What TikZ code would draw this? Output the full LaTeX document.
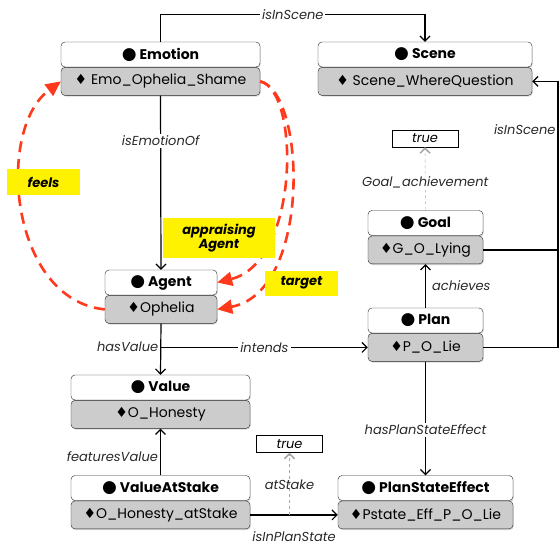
\documentclass[tikz,border=0pt]{standalone}
\usepackage{fontspec}
\setmainfont{Poppins}
\newfontfamily\symfont{DejaVu Sans}
\usetikzlibrary{positioning,arrows.meta,shadows}

\definecolor{appraisalred}{RGB}{255,58,28}
\definecolor{ink}{RGB}{40,40,40}
\newcommand{\clsdot}{{\symfont\fontsize{17}{17}\selectfont ●}}
\newcommand{\insdia}{{\symfont ♦}}

\tikzset{
	classhead/.style={draw=ink, rounded corners=4pt, fill=white, minimum height=25pt, inner sep=2pt, font=\fontsize{14}{16}\selectfont\bfseries, drop shadow={shadow xshift=0.8pt, shadow yshift=-1.2pt, opacity=0.3}},
	instance/.style={draw=ink, rounded corners=4pt, fill=gray!40, minimum height=28pt, inner sep=2pt, font=\fontsize{14}{16}\selectfont, drop shadow={shadow xshift=0.8pt, shadow yshift=-1.2pt, opacity=0.3}},
	rel/.style={line width=1.2pt, -{Straight Barb[length=5pt,width=10pt]}},
	lbl/.style={text=ink, font=\fontsize{13}{15}\selectfont\itshape, fill=white, inner sep=2pt},
	truebox/.style={draw, fill=white, minimum width=66pt, minimum height=17pt, inner sep=1pt, font=\fontsize{13}{15}\selectfont\itshape},
	hint/.style={gray!70, dashed, -{Straight Barb[length=5pt,width=10pt,line width=1.5pt]}},
	appraisal/.style={appraisalred, line width=2.6pt, dash pattern=on 11pt off 7pt, -{Triangle[length=15pt,width=14pt]}},
	tag/.style={fill=yellow, align=center, inner sep=2pt, font=\fontsize{13}{14}\selectfont\bfseries\itshape}
}

\begin{document}
\begin{tikzpicture}[x=1pt, y=-1pt]
	\useasboundingbox (0,0) rectangle (560,549);

	\node[classhead, minimum width=199pt] (emo) at (160.5,54.5) {\clsdot\ Emotion};
	\node[instance, minimum width=199pt, below=0pt of emo] (emoA) {\insdia\ Emo\_Ophelia\_Shame};
	\node[classhead, minimum width=214pt] (scene) at (425,54.5) {\clsdot\ Scene};
	\node[instance, minimum width=214pt, below=0pt of scene] (sceneA) {\insdia\ Scene\_WhereQuestion};
	\node[classhead, minimum width=115pt] (goal) at (425.5,223) {\clsdot\ Goal};
	\node[instance, minimum width=115pt, below=0pt of goal] (goalA) {\insdia G\_O\_Lying};
	\node[classhead, minimum width=115pt] (plan) at (425.5,320.5) {\clsdot\ Plan};
	\node[instance, minimum width=115pt, below=0pt of plan] (planA) {\insdia P\_O\_Lie};
	\node[classhead, minimum width=112pt] (agent) at (161,282.5) {\clsdot\ Agent};
	\node[instance, minimum width=112pt, below=0pt of agent] (agentA) {\insdia Ophelia};
	\node[classhead, minimum width=179pt] (value) at (160.5,387.5) {\clsdot\ Value};
	\node[instance, minimum width=179pt, below=0pt of value] (valueA) {\insdia O\_Honesty};
	\node[classhead, minimum width=179pt] (vas) at (160.5,488) {\clsdot\ ValueAtStake};
	\node[instance, minimum width=179pt, below=0pt of vas] (vasA) {\insdia O\_Honesty\_atStake};
	\node[classhead, minimum width=175pt] (pse) at (425.5,488) {\clsdot\ PlanStateEffect};
	\node[instance, minimum width=175pt, below=0pt of pse] (pseA) {\insdia Pstate\_Eff\_P\_O\_Lie};

	\node[truebox] (trueG) at (425,138.5) {true};
	\node[truebox] (trueS) at (289.5,444) {true};

	\coordinate (rail) at (558,0);

	\draw[rel](emo.north) -- ++(0,-27) -| node[lbl, pos=0.25]{isInScene} (scene.north);
	\draw[rel](planA.east) -- (planA.east -| rail) |- node[lbl, pos=0.41, left, fill=none]{isInScene} (sceneA.east);
	\draw[line width=1.2pt](goalA.east) -- (goalA.east -| rail);
	\draw[rel](emoA.south) -- node[lbl, pos=0.26]{isEmotionOf} (agent.north);
	\draw[rel](agentA.south) -- node[lbl, pos=0.45, left, fill=none]{hasValue} (value.north);
	\draw[rel](planA.west -| agentA.south) -- node[lbl]{intends} (planA.west);
	\draw[rel](plan.north) -- node[lbl, right, fill=none, xshift=4pt]{achieves} (goalA.south);
	\draw[rel](planA.south) -- node[lbl, pos=0.6]{hasPlanStateEffect} (pse.north);
	\draw[rel](vas.north) -- node[lbl, pos=0.4, left, fill=none]{featuresValue} (valueA.south);
	\draw[rel](vasA.east) -- node[lbl, below, fill=none, yshift=-14pt]{isInPlanState} (pseA.west);
	\draw[hint](goal.north) -- node[lbl, pos=0.45]{Goal\_achievement} (trueG.south);
	\draw[hint](vasA.east -| trueS.south) -- node[lbl, fill=none, pos=0.48]{atStake} (trueS.south);

	\draw[appraisal](agentA.west) .. controls (10,300) and (-5,130) .. (emoA.west);
	\draw[appraisal](emoA.east) .. controls (300,90) and (300,262) .. (agent.east);
	\draw[appraisal](emoA.east) .. controls (306,92) and (312,292) .. (agentA.east);

	\node[tag, minimum width=73pt, minimum height=26pt] (feels) at (43.5,182) {feels};
	\node[tag, minimum width=112pt, minimum height=40pt] (appraising) at (219,238) {appraising\\Agent};
	\node[tag, minimum width=73pt, minimum height=25pt] (target) at (301.5,283) {target};
\end{tikzpicture}
\end{document}
